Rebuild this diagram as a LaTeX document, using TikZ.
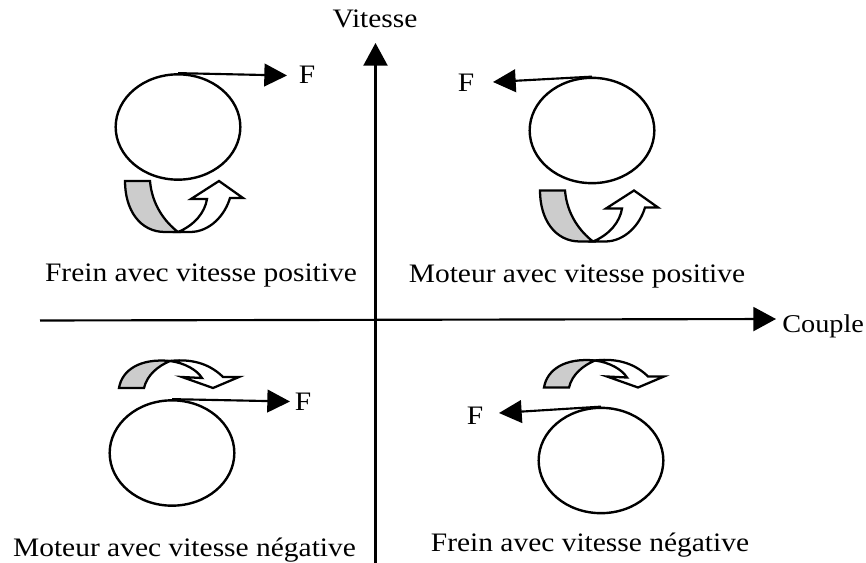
\documentclass[tikz,border=0pt]{standalone}
\usepackage{fontspec}
\setmainfont[FakeStretch=1.105]{Liberation Serif}
\usetikzlibrary{arrows.meta,shapes.geometric}
\tikzset{
  x=0.75pt,y=-0.75pt,
  wheel/.style={draw,line width=1.8pt,ellipse,minimum width=93.5pt,minimum height=79pt,inner sep=0pt},
  lab/.style={inner sep=0pt,font=\fontsize{20}{22}\selectfont,anchor=base},
  axis/.style={line width=1.6pt,-{Triangle[length=17pt,width=18pt]}},
  force/.style={line width=1.6pt,-{Triangle[length=17pt,width=17pt]}},
  curl/.style={line width=1.7pt,line join=miter}
}
\begin{document}
\begin{tikzpicture}
\useasboundingbox (0,0) rectangle (866,563);
\coordinate (vs) at (375.5,563); \coordinate (ve) at (375.5,43);
\coordinate (cs) at (40,320.5); \coordinate (ce) at (776,319);
\draw[axis] (vs) -- (ve);
\draw[axis] (cs) -- (ce);
\node[lab] (vit) at (375,28) {Vitesse};
\node[lab,anchor=base west,font=\fontsize{19.2}{22}\selectfont] (cou) at (782,332) {Couple};
% wheels
\node[wheel] (w1) at (178,127) {};
\node[wheel] (w2) at (592,130.5) {};
\node[wheel] (w3) at (172,453) {};
\node[wheel] (w4) at (601,460.5) {};
\node[lab] (f1) at (307,84) {F};
\node[lab] (f2) at (466,92) {F};
\node[lab] (f3) at (303,410) {F};
\node[lab] (f4) at (475,424) {F};
\coordinate (t1) at (287,75.5); \coordinate (t2) at (493,82);
\coordinate (t3) at (290,401.5); \coordinate (t4) at (499,413);
\draw[force] (w1.north) -- (t1);
\draw[force] (w2.north) -- (t2);
\draw[force] (w3.north) -- (t3);
\draw[force] (w4.north) -- (t4);
% upward curls
\foreach \dx/\dy in {0/0,415/9.5}{
\begin{scope}[shift={(\dx,\dy)}]
\filldraw[curl,fill=black!20] (125,181) -- (150,181) .. controls (152,205) and (165,222) .. (178,232) -- (165,232) .. controls (140,232) and (125,210) .. (125,181) -- cycle;
\filldraw[curl,fill=white] (178,232) .. controls (195,225) and (205,212) .. (207,199) -- (191,199) -- (219,181) -- (243,198) -- (230,198) .. controls (225,215) and (210,232) .. (190,232) -- cycle;
\end{scope}}
% downward curls
\foreach \dx/\dy in {0/0,425/-0.5}{
\begin{scope}[shift={(\dx,\dy)}]
\filldraw[curl,fill=black!20] (119,388) -- (144,388) .. controls (147,375) and (158,366) .. (170,361) .. controls (140,358) and (122,370) .. (119,388) -- cycle;
\filldraw[curl,fill=white] (170,361) .. controls (185,363) and (197,370) .. (202,378) -- (182,377) -- (213,388) -- (239,377) -- (223,377) .. controls (212,366) and (195,358) .. (170,361) -- cycle;
\end{scope}}
\node[lab] (l1) at (201,281) {Frein avec vitesse positive};
\node[lab] (l2) at (577,282) {Moteur avec vitesse positive};
\node[lab] (l3) at (184.5,556) {Moteur avec vitesse négative};
\node[lab] (l4) at (590,551) {Frein avec vitesse négative};
\end{tikzpicture}
\end{document}
